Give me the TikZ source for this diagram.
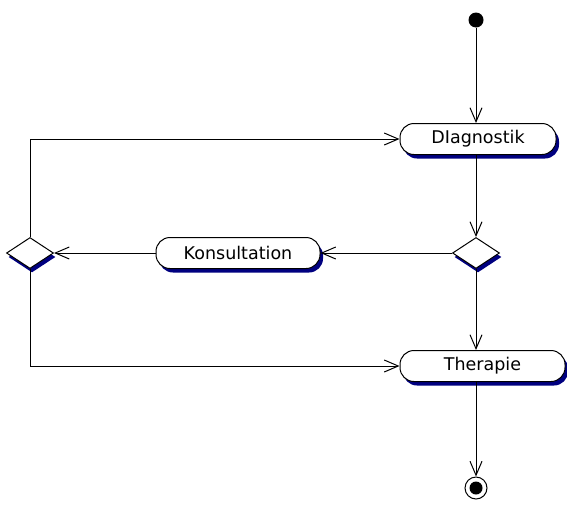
\documentclass[tikz,border=0pt]{standalone}
\usepackage{fontspec}
\setmainfont{DejaVu Sans}
\usetikzlibrary{shapes.geometric,shadows,arrows.meta}
\definecolor{shade}{RGB}{0,0,128}
\begin{document}
\begin{tikzpicture}[x=1pt,y=-1pt,line width=1pt,
  activity/.style={draw, fill=white, rounded corners=14pt, minimum height=31pt,
    inner sep=0pt, font=\fontsize{17.5}{20}\selectfont,
    general shadow={fill=shade, shadow xshift=3pt, shadow yshift=-4pt}},
  branch/.style={diamond, draw, fill=white, inner sep=0pt, minimum width=47pt,
    minimum height=31pt,
    general shadow={fill=shade, shadow xshift=2pt, shadow yshift=-4pt}},
  flow/.style={-{Straight Barb[length=14pt,width=12pt,line width=1pt]}}]
\useasboundingbox (0,0) rectangle (567,504);

% start and end states
\node[circle, fill=black, minimum size=15pt, inner sep=0pt] (start) at (476,20) {};
\node[circle, draw, fill=white, minimum size=22pt, inner sep=0pt] (final) at (476,488) {};
\node[circle, fill=black, minimum size=13pt, inner sep=0pt] (finalcore) at (final) {};

% activities
\node[activity, minimum width=156pt] (diag) at (478,139) {DIagnostik};
\node[activity, minimum width=164pt] (kons) at (238,253) {Konsultation};
\node[activity, minimum width=165pt] (ther) at (482.5,366) {Therapie};

% decisions
\node[branch] (dr) at (476,253) {};
\node[branch] (dl) at (30,253) {};

% control flow
\draw[flow] (start) -- (diag.north -| start);
\draw[flow] (diag.south -| start) -- (dr.north);
\draw[flow] (dr.west) -- (kons.east);
\draw[flow] (kons.west) -- (dl.east);
\draw[flow] (dl.north) |- (diag.west);
\draw[flow] (dl.south) |- (ther.west);
\draw[flow] (dr.south) -- (ther.north -| dr.south);
\draw[flow] (ther.south -| start) -- (final.north);
\end{tikzpicture}
\end{document}
